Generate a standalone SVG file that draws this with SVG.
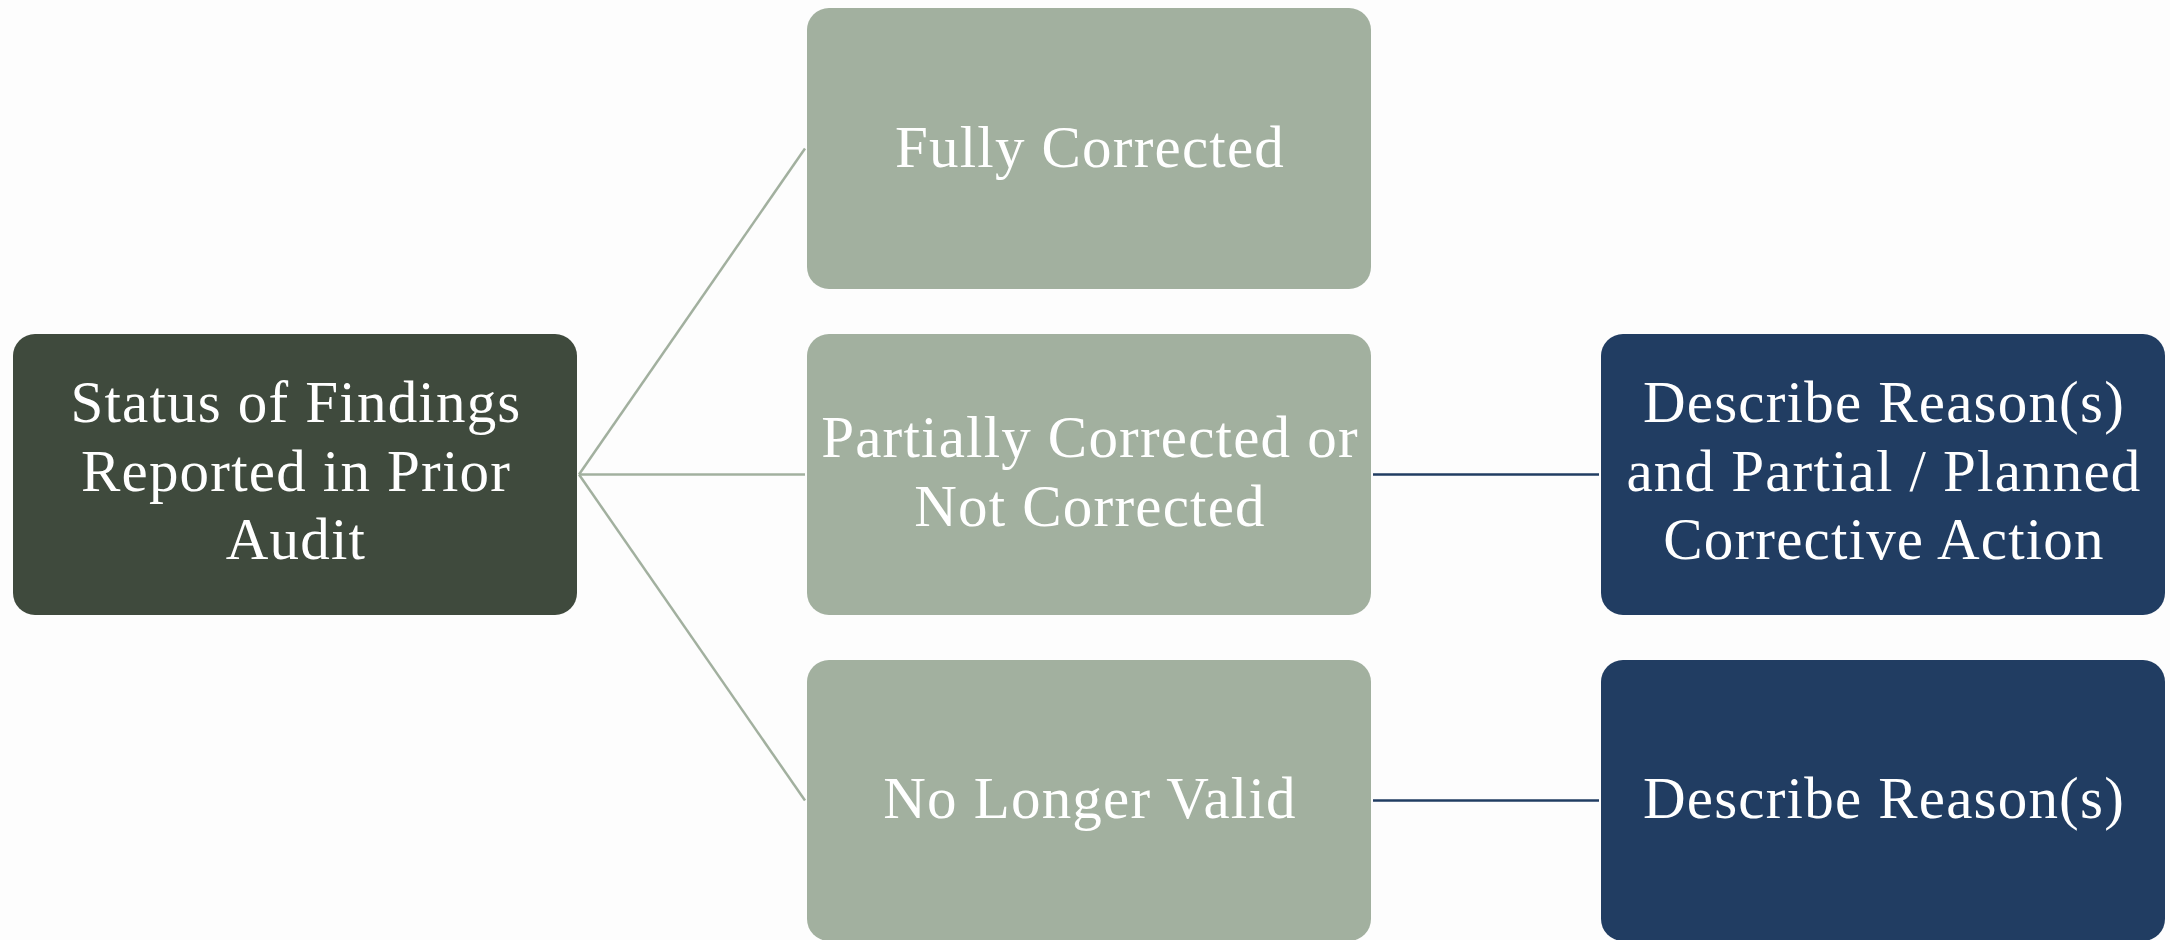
<svg xmlns="http://www.w3.org/2000/svg" width="2170" height="940" viewBox="0 0 2170 940">
  <style>
    .box { stroke: none; }
    .root { fill: #3f4a3d; }
    .status { fill: #a2b09f; }
    .action { fill: #213d62; }
    .label { font-family: "Liberation Serif", "DejaVu Serif", serif; font-size: 59px; letter-spacing: 1.2px; fill: #ffffff; text-anchor: middle; }
    .link-sage { stroke: #a2b09f; stroke-width: 2.5; fill: none; }
    .link-navy { stroke: #213d62; stroke-width: 2.5; fill: none; }
  </style>
  <rect x="0" y="0" width="2170" height="940" fill="#fdfdfd"/>

  <g id="connectors">
    <path class="link-sage" d="M579 474.5 L805 148.5"/>
    <path class="link-sage" d="M579 474.5 L805 474.5"/>
    <path class="link-sage" d="M579 474.5 L805 800.5"/>
    <path class="link-navy" d="M1373 474.5 L1599 474.5"/>
    <path class="link-navy" d="M1373 800.5 L1599 800.5"/>
  </g>

  <g id="node-status">
    <rect class="box root" x="13" y="334" width="564" height="281" rx="22"/>
    <text class="label" x="296" y="422">Status of Findings</text>
    <text class="label" x="296" y="491">Reported in Prior</text>
    <text class="label" x="296" y="559">Audit</text>
  </g>

  <g id="node-fully">
    <rect class="box status" x="807" y="8" width="564" height="281" rx="22"/>
    <text class="label" x="1090" y="167">Fully Corrected</text>
  </g>

  <g id="node-partially">
    <rect class="box status" x="807" y="334" width="564" height="281" rx="22"/>
    <text class="label" x="1090" y="457">Partially Corrected or</text>
    <text class="label" x="1090" y="526">Not Corrected</text>
  </g>

  <g id="node-invalid">
    <rect class="box status" x="807" y="660" width="564" height="281" rx="22"/>
    <text class="label" x="1090" y="818">No Longer Valid</text>
  </g>

  <g id="node-describe-planned">
    <rect class="box action" x="1601" y="334" width="564" height="281" rx="22"/>
    <text class="label" x="1884" y="422">Describe Reason(s)</text>
    <text class="label" x="1884" y="491">and Partial / Planned</text>
    <text class="label" x="1884" y="559">Corrective Action</text>
  </g>

  <g id="node-describe">
    <rect class="box action" x="1601" y="660" width="564" height="281" rx="22"/>
    <text class="label" x="1884" y="818">Describe Reason(s)</text>
  </g>
</svg>
